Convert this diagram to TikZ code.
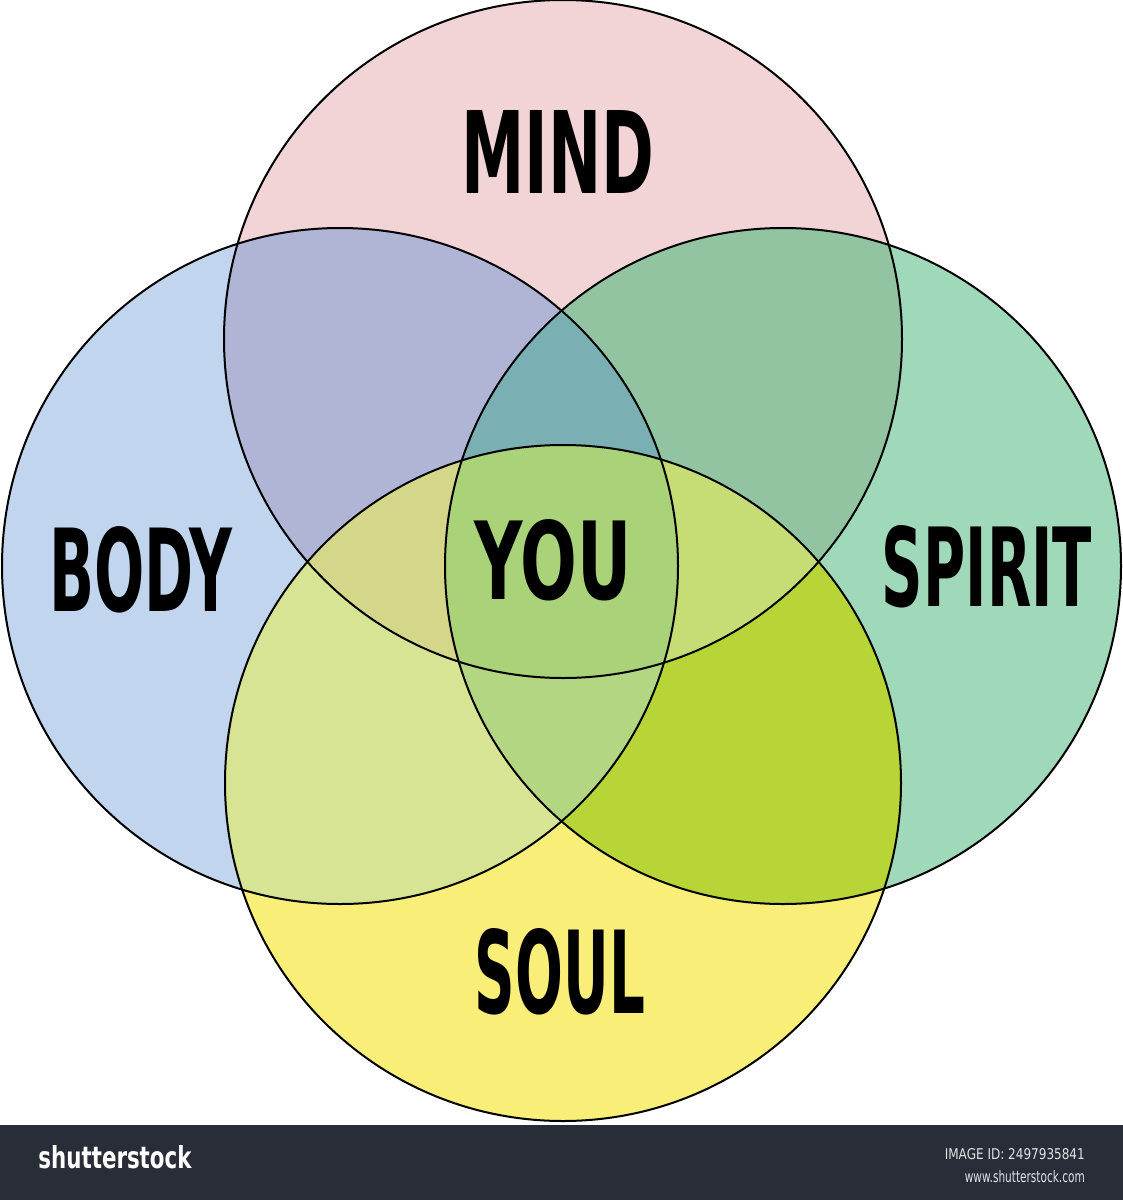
\documentclass[tikz,border=0pt]{standalone}
\usepackage{fontspec}
\usepackage{graphicx}
\setmainfont{DejaVu Sans}
\definecolor{cM}{RGB}{242,212,214}
\definecolor{cB}{RGB}{193,213,238}
\definecolor{cS}{RGB}{160,216,186}
\definecolor{cL}{RGB}{248,238,120}
\definecolor{cMB}{RGB}{176,181,214}
\definecolor{cMS}{RGB}{146,196,161}
\definecolor{cBL}{RGB}{215,228,148}
\definecolor{cSL}{RGB}{183,213,54}
\definecolor{cMBS}{RGB}{122,176,180}
\definecolor{cMBL}{RGB}{212,215,138}
\definecolor{cMSL}{RGB}{198,220,117}
\definecolor{cBSL}{RGB}{178,214,130}
\definecolor{cAll}{RGB}{170,210,120}
\definecolor{barc}{RGB}{41,45,55}
\definecolor{bartext}{RGB}{225,225,228}
\newcommand\lab[3]{\resizebox{#1pt}{#2pt}{\bfseries #3}}
\newcommand\pM{(M) circle[radius=339pt]}
\newcommand\pB{(B) circle[radius=338pt]}
\newcommand\pS{(S) circle[radius=338pt]}
\newcommand\pL{(L) circle[radius=338pt]}
\tikzset{
  ring/.style={draw=black, line width=2pt},
  word/.style={inner sep=0pt, text=black},
  bartxt/.style={inner sep=0pt, text=bartext}
}
\begin{document}
\begin{tikzpicture}[x=1pt,y=-1pt]
\useasboundingbox (0,0) rectangle (1123,1200);
\fill[white] (0,0) rectangle (1123,1200);
\coordinate (M) at (563,339);
\coordinate (B) at (340,566);
\coordinate (S) at (783,566);
\coordinate (L) at (563,783);
% single circles
\fill[cM] \pM;
\fill[cB] \pB;
\fill[cS] \pS;
\fill[cL] \pL;
% pairs
\begin{scope}\clip \pM; \fill[cMB] \pB; \end{scope}
\begin{scope}\clip \pM; \fill[cMS] \pS; \end{scope}
\begin{scope}\clip \pB; \fill[cBL] \pL; \end{scope}
\begin{scope}\clip \pS; \fill[cSL] \pL; \end{scope}
% triples
\begin{scope}\clip \pM; \clip \pB; \fill[cMBS] \pS; \end{scope}
\begin{scope}\clip \pM; \clip \pB; \fill[cMBL] \pL; \end{scope}
\begin{scope}\clip \pM; \clip \pS; \fill[cMSL] \pL; \end{scope}
\begin{scope}\clip \pB; \clip \pS; \fill[cBSL] \pL; \end{scope}
% all four
\begin{scope}\clip \pM; \clip \pB; \clip \pS; \fill[cAll] \pL; \end{scope}
% outlines
\draw[ring] \pM;
\draw[ring] \pB;
\draw[ring] \pS;
\draw[ring] \pL;
% labels
\node[word] (mind) at (558,152) {\lab{193}{83}{MIND}};
\node[word] (body) at (141,570) {\lab{183}{85}{BODY}};
\node[word] (you) at (553,560) {\lab{157}{80}{YOU}};
\node[word] (spirit) at (987,567) {\lab{210}{81}{SPIRIT}};
\node[word] (soul) at (560,972) {\lab{170}{85}{SOUL}};
% bottom bar
\fill[barc] (0,1125) rectangle (1123,1200);
\node[bartxt, text=white] (logo) at (115,1157) {\resizebox{153pt}{23pt}{\bfseries shutterstock}};
\node[bartxt, anchor=east] (imgid) at (1085,1154) {\resizebox{140pt}{11pt}{IMAGE ID: 2497935841}};
\node[bartxt, anchor=east] (www) at (1085,1177) {\resizebox{120pt}{12pt}{www.shutterstock.com}};
\end{tikzpicture}
\end{document}
